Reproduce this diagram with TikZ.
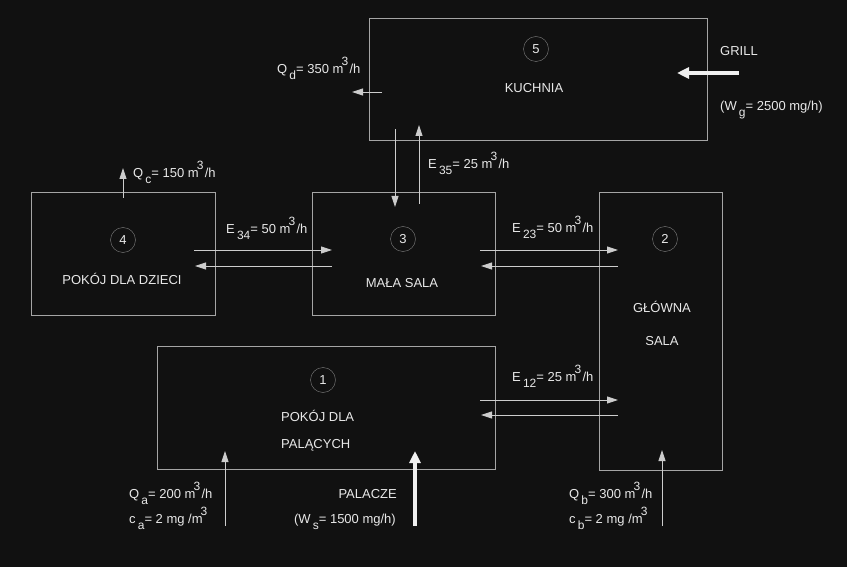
\documentclass[tikz,border=0pt]{standalone}
\usepackage{fontspec}
\setmainfont{Liberation Sans}
\usetikzlibrary{arrows.meta,positioning}
\definecolor{bgcol}{RGB}{17,17,17}
\definecolor{boxcol}{RGB}{165,165,165}
\definecolor{arrcol}{RGB}{205,205,205}
\definecolor{txtcol}{RGB}{232,232,232}
\newcommand{\lo}[1]{\,\raisebox{-0.8ex}{\fontsize{12bp}{12bp}\selectfont #1}}
\newcommand{\hi}[1]{\kern-0.15em\raisebox{1.15ex}{\fontsize{12bp}{12bp}\selectfont #1}\kern0.1em}

\begin{document}
\begin{tikzpicture}[x=1bp, y=-1bp,
  room/.style={draw=boxcol, line width=0.9bp, inner sep=0pt},
  num/.style={draw=gray, circle, minimum size=25bp, inner sep=0pt, text=txtcol, font=\fontsize{13bp}{15bp}\selectfont},
  lbl/.style={text=txtcol, font=\fontsize{13bp}{15bp}\selectfont, inner sep=0pt, text height=9.4bp, text depth=0bp},
  flow/.style={draw=arrcol, line width=0.9bp, -{Triangle[length=11bp,width=7bp]}},
  heavy/.style={draw=white!94!black, line width=3.5bp, -{Triangle[length=12bp,width=11bp]}}]
  \fill[bgcol] (0,0) rectangle (847,567);
  \useasboundingbox (0,0) rectangle (847,567);

  % rooms
  \node[room, minimum width=338bp, minimum height=122bp] (kuchnia) at (538,79) {};
  \node[room, minimum width=184bp, minimum height=123bp] (dzieci) at (123,253.5) {};
  \node[room, minimum width=183bp, minimum height=123bp] (mala) at (403.5,253.5) {};
  \node[room, minimum width=123bp, minimum height=278bp] (glowna) at (660.5,331) {};
  \node[room, minimum width=338bp, minimum height=123bp] (palacy) at (326,407.5) {};

  \node[num] (n5) at (536,49) {5};
  \node[num] (n4) at (123,240) {4};
  \node[num] (n3) at (403,239) {3};
  \node[num] (n2) at (665,239) {2};
  \node[num] (n1) at (323,380) {1};

  \node[lbl] (t5) at (534,88) {KUCHNIA};
  \node[lbl] (t4) at (122,280) {POKÓJ DLA DZIECI};
  \node[lbl] (t3) at (402,283) {MAŁA SALA};
  \node[lbl] (t2a) at (662,308) {GŁÓWNA};
  \node[lbl] (t2b) at (662,341) {SALA};
  \node[lbl, anchor=west] (t1a) at (281,417) {POKÓJ DLA};
  \node[lbl, anchor=west] (t1b) at (281,444) {PALĄCYCH};

  % flow labels
  \node[lbl, anchor=west] (qd) at (277,69) {Q\lo{d}= 350 m\hi{3}/h};
  \node[lbl, anchor=west] (grill) at (720,51) {GRILL};
  \node[lbl, anchor=west] (wg) at (720,106) {(W\lo{g}= 2500 mg/h)};
  \node[lbl, anchor=west] (e35) at (428,164) {E\lo{35}= 25 m\hi{3}/h};
  \node[lbl, anchor=west] (qc) at (133,173) {Q\lo{c}= 150 m\hi{3}/h};
  \node[lbl, anchor=west] (e34) at (226,229) {E\lo{34}= 50 m\hi{3}/h};
  \node[lbl, anchor=west] (e23) at (512,228) {E\lo{23}= 50 m\hi{3}/h};
  \node[lbl, anchor=west] (e12) at (512,377) {E\lo{12}= 25 m\hi{3}/h};
  \node[lbl, anchor=west] (qa) at (129,494) {Q\lo{a}= 200 m\hi{3}/h};
  \node[lbl, anchor=west] (ca) at (129,519) {c\lo{a}= 2 mg /m\hi{3}};
  \node[lbl, anchor=east] (pal) at (397,494) {PALACZE};
  \node[lbl, anchor=east] (ws) at (396,519) {(W\lo{s}= 1500 mg/h)};
  \node[lbl, anchor=west] (qb) at (569,494) {Q\lo{b}= 300 m\hi{3}/h};
  \node[lbl, anchor=west] (cb) at (569,519) {c\lo{b}= 2 mg /m\hi{3}};

  % arrow ends
  \coordinate (qd0) at (382,92);   \coordinate (qd1) at (352,92);
  \coordinate (g0) at (739,73);    \coordinate (g1) at (677,73);
  \coordinate (d53a) at (395,129); \coordinate (d53b) at (395,207);
  \coordinate (u35a) at (419,204); \coordinate (u35b) at (419,125);
  \coordinate (qc0) at (123,198);  \coordinate (qc1) at (123,168);
  \coordinate (r34a) at (194,250); \coordinate (r34b) at (332,250);
  \coordinate (l34a) at (332,266); \coordinate (l34b) at (195,266);
  \coordinate (r23a) at (480,250); \coordinate (r23b) at (618,250);
  \coordinate (l23a) at (618,266); \coordinate (l23b) at (481,266);
  \coordinate (r12a) at (480,400); \coordinate (r12b) at (618,400);
  \coordinate (l12a) at (618,415); \coordinate (l12b) at (481,415);
  \coordinate (qa0) at (225,526);  \coordinate (qa1) at (225,451);
  \coordinate (ws0) at (415,526);  \coordinate (ws1) at (415,451);
  \coordinate (qb0) at (662,526);  \coordinate (qb1) at (662,450);

  \draw[flow] (qd0) -- (qd1);
  \draw[heavy] (g0) -- (g1);
  \draw[flow] (d53a) -- (d53b);
  \draw[flow] (u35a) -- (u35b);
  \draw[flow] (qc0) -- (qc1);
  \draw[flow] (r34a) -- (r34b);
  \draw[flow] (l34a) -- (l34b);
  \draw[flow] (r23a) -- (r23b);
  \draw[flow] (l23a) -- (l23b);
  \draw[flow] (r12a) -- (r12b);
  \draw[flow] (l12a) -- (l12b);
  \draw[flow] (qa0) -- (qa1);
  \draw[heavy] (ws0) -- (ws1);
  \draw[flow] (qb0) -- (qb1);
\end{tikzpicture}
\end{document}
